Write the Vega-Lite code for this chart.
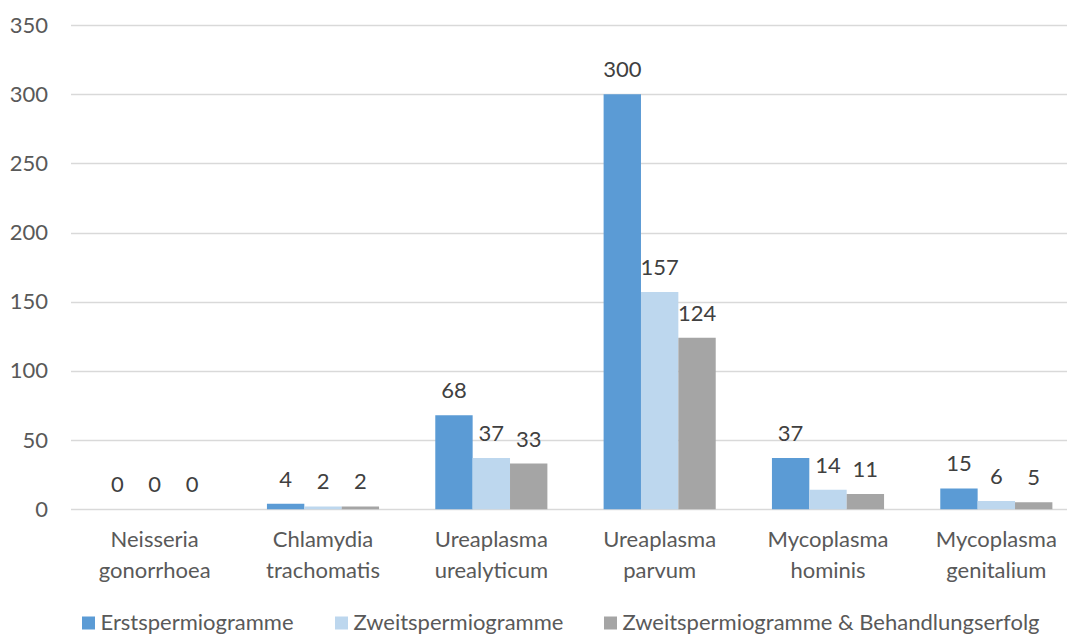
{
  "$schema": "https://vega.github.io/schema/vega-lite/v6.json",
  "autosize": {"type": "none"},
  "width": 996.5,
  "height": 484.2,
  "padding": {"left": 70.5, "top": 25, "right": 0, "bottom": 125.8},
  "background": "white",
  "config": {
    "font": "Lato",
    "view": {"stroke": null},
    "axis": {"labelFont": "Lato", "labelColor": "#595959", "labelFontSize": 22},
    "legend": {"labelFont": "Lato", "labelColor": "#595959", "labelFontSize": 22}
  },
  "data": {
    "values": [
      {"erreger": "Neisseria gonorrhoea", "serie": "Erstspermiogramme", "anzahl": 0},
      {"erreger": "Neisseria gonorrhoea", "serie": "Zweitspermiogramme", "anzahl": 0},
      {"erreger": "Neisseria gonorrhoea", "serie": "Zweitspermiogramme & Behandlungserfolg", "anzahl": 0},
      {"erreger": "Chlamydia trachomatis", "serie": "Erstspermiogramme", "anzahl": 4},
      {"erreger": "Chlamydia trachomatis", "serie": "Zweitspermiogramme", "anzahl": 2},
      {"erreger": "Chlamydia trachomatis", "serie": "Zweitspermiogramme & Behandlungserfolg", "anzahl": 2},
      {"erreger": "Ureaplasma urealyticum", "serie": "Erstspermiogramme", "anzahl": 68},
      {"erreger": "Ureaplasma urealyticum", "serie": "Zweitspermiogramme", "anzahl": 37},
      {"erreger": "Ureaplasma urealyticum", "serie": "Zweitspermiogramme & Behandlungserfolg", "anzahl": 33},
      {"erreger": "Ureaplasma parvum", "serie": "Erstspermiogramme", "anzahl": 300},
      {"erreger": "Ureaplasma parvum", "serie": "Zweitspermiogramme", "anzahl": 157},
      {"erreger": "Ureaplasma parvum", "serie": "Zweitspermiogramme & Behandlungserfolg", "anzahl": 124},
      {"erreger": "Mycoplasma hominis", "serie": "Erstspermiogramme", "anzahl": 37},
      {"erreger": "Mycoplasma hominis", "serie": "Zweitspermiogramme", "anzahl": 14},
      {"erreger": "Mycoplasma hominis", "serie": "Zweitspermiogramme & Behandlungserfolg", "anzahl": 11},
      {"erreger": "Mycoplasma genitalium", "serie": "Erstspermiogramme", "anzahl": 15},
      {"erreger": "Mycoplasma genitalium", "serie": "Zweitspermiogramme", "anzahl": 6},
      {"erreger": "Mycoplasma genitalium", "serie": "Zweitspermiogramme & Behandlungserfolg", "anzahl": 5}
    ]
  },
  "encoding": {
    "x": {
      "field": "erreger",
      "type": "nominal",
      "sort": null,
      "scale": {"range": [0, 1010], "paddingInner": 0.334, "paddingOuter": 0.167},
      "axis": {
        "title": null,
        "labelAngle": 0,
        "domain": false,
        "ticks": false,
        "labelPadding": 20,
        "labelLineHeight": 31,
        "labelExpr": "split(datum.label, ' ')"
      }
    },
    "xOffset": {
      "field": "serie",
      "type": "nominal",
      "sort": ["Erstspermiogramme", "Zweitspermiogramme", "Zweitspermiogramme & Behandlungserfolg"],
      "scale": {"paddingInner": 0, "paddingOuter": 0}
    },
    "y": {
      "field": "anzahl",
      "type": "quantitative",
      "scale": {"domain": [0, 350], "nice": false},
      "axis": {
        "title": null,
        "values": [0, 50, 100, 150, 200, 250, 300, 350],
        "domain": false,
        "ticks": false,
        "labelPadding": 23,
        "gridColor": "#d9d9d9",
        "gridWidth": 1.5
      }
    }
  },
  "layer": [
    {
      "mark": {"type": "bar"},
      "encoding": {
        "color": {
          "field": "serie",
          "type": "nominal",
          "sort": ["Erstspermiogramme", "Zweitspermiogramme", "Zweitspermiogramme & Behandlungserfolg"],
          "scale": {
            "domain": ["Erstspermiogramme", "Zweitspermiogramme", "Zweitspermiogramme & Behandlungserfolg"],
            "range": ["#5b9bd5", "#bdd7ee", "#a5a5a5"]
          },
          "legend": {
            "title": null,
            "orient": "none",
            "direction": "horizontal",
            "legendX": 7,
            "legendY": 587,
            "symbolType": "square",
            "symbolSize": 169,
            "symbolStrokeWidth": 0,
            "labelOffset": 1,
            "labelLimit": 0,
            "columnPadding": 36
          }
        }
      }
    },
    {
      "mark": {"type": "text", "baseline": "alphabetic", "dy": -17, "fontSize": 22, "color": "#404040", "font": "Lato"},
      "encoding": {
        "text": {"field": "anzahl", "type": "quantitative"}
      }
    }
  ]
}
